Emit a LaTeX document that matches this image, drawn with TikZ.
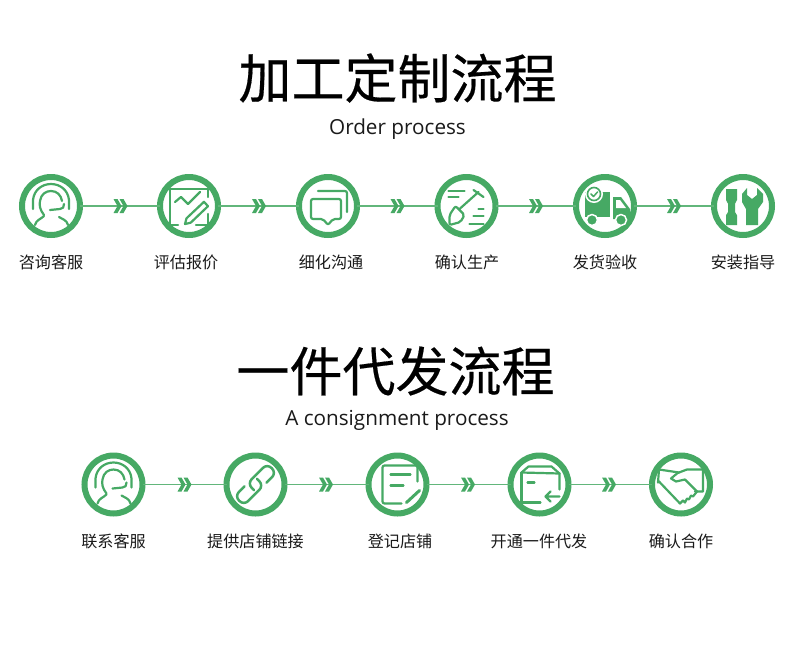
\documentclass[tikz,border=0pt]{standalone}
\usepackage{fontspec}
\newfontfamily\cjk{Noto Sans CJK SC}
\newfontfamily\cjkmed[FakeBold=0.35]{Noto Sans CJK SC}
\newfontfamily\enfont{Open Sans}
\definecolor{gc}{HTML}{46A964}
\definecolor{ink}{HTML}{1A1A1A}
\tikzset{
  ring/.style={circle,draw=gc,line width=6pt,minimum size=58pt,inner sep=0pt,outer sep=0pt,fill=white},
  link/.style={draw=gc!85,line width=1.3pt},
  ic/.style={draw=gc,line width=2.2pt,line cap=round,line join=round},
  titletext/.style={font=\cjkmed\fontsize{53}{56}\selectfont,text=black,inner sep=0pt},
  subtext/.style={font=\enfont\fontsize{20.7}{24}\selectfont,text=ink,inner sep=0pt,anchor=base},
  labeltext/.style={font=\cjk\fontsize{16.1}{18}\selectfont,text=ink,inner sep=0pt,anchor=base},
  chev/.pic={
    \fill[gc] (-7,-7)--(-3,-7)--(1,0)--(-3,7)--(-7,7)--(-3,0)--cycle;
    \fill[gc] (-1,-7)--(3,-7)--(7,0)--(3,7)--(-1,7)--(3,0)--cycle;
  },
  iconperson/.pic={
    \draw[ic] (-18,3)--(-18,-6) .. controls (-17,-16) and (-9,-22) .. (0,-22) .. controls (9,-22) and (17,-16) .. (18,-6)--(18,3);
    \draw[ic] (-7,9) .. controls (-11,4) and (-12,-1) .. (-11,-5) .. controls (-10,-12) and (-5,-15) .. (0,-15) .. controls (6,-15) and (10,-11) .. (11,-5);
    \draw[ic] (-1,4)--(9,3) .. controls (12,3) and (13,1) .. (13,-2);
    \draw[ic] (-16,19) .. controls (-15,14) and (-10,13) .. (-7,10);
    \draw[ic] (17,19) .. controls (16,14) and (11,13) .. (8,11);
  },
  iconchart/.pic={
    \draw[ic] (-19,19)--(-19,-17)--(19,-17)--(19,-9);
    \draw[ic] (19,8)--(19,19)--(7,19);
    \draw[ic] (-19,19)--(-11,19);
    \draw[ic] (-14,-4)--(-8,-9)--(-1,-2)--(11,-14);
    \draw[ic] (-4,18)--(1.7,16.7)--(19,0.2)--(15,-4.2)--(-2.5,12.3)--cycle;
  },
  iconchat/.pic={
    \draw[ic,rounded corners=2pt] (-10,-15)--(19,-15)--(19,6);
    \draw[ic,rounded corners=2pt] (-17,13)--(-17,-7)--(13,-7)--(13,13)--(5,13)--(0,19)--(-5,13)--cycle;
  },
  iconshovel/.pic={
    \draw[ic] (-18,-15)--(-2,-15) (-18,-9)--(-8,-9);
    \draw[ic] (-7,3)--(12,-14) (7,-16)--(17,-9);
    \draw[ic,rounded corners=2pt] (-11,0)--(-2,9)--(-6,16)--(-17,19)--(-17,9)--cycle;
    \draw[ic] (12,3)--(17,3) (7,10)--(17,10) (3,18)--(17,18);
  },
  icontruck/.pic={
    \fill[gc] (-20,-14)--(5,-14)--(5,11)--(-20,11)--cycle;
    \fill[gc] (8,-9)--(16,-9)--(25,3)--(25,13)--(8,13)--cycle;
    \fill[white] (11,-6)--(15,-6)--(21,2)--(11,2)--cycle;
    \fill[white] (-11,-12) circle (9);
    \draw[gc,line width=1.6pt] (-11,-12) circle (6.5);
    \draw[gc,line width=1.5pt,line cap=round,line join=round] (-14,-12)--(-11.5,-9.5)--(-7.5,-14);
    \fill[gc,draw=white,line width=1.5pt] (-13,14) circle (5.5);
    \fill[gc,draw=white,line width=1.5pt] (16,14) circle (5.5);
  },
  icontools/.pic={
    \fill[gc] (-17,-17)--(-6,-17)--(-6,-6)--(-8,-2.3)--(-8,6)--(-6,9.3)--(-6,19)--(-17,19)--(-17,9.3)--(-15,6)--(-15,-2.3)--(-17,-6)--cycle;
    \fill[gc] (-1,-12)--(4,-18)--(4,-11)--(9,-7)--(14,-11)--(14,-18)--(20,-12)--(20,-4)--(15,3)--(15,19)--(3,19)--(3,3)--(-1,-4)--cycle;
  },
  iconlink/.pic={
    \begin{scope}[rotate=45]
      \draw[ic,line width=2.5pt,rounded corners=6pt] (9,6.5)--(23,6.5)--(23,-6.5)--(-5,-6.5)--(-5,3);
      \draw[ic,line width=2.5pt,rounded corners=6pt] (-9,-6.5)--(-23,-6.5)--(-23,6.5)--(5,6.5)--(5,-3);
    \end{scope}
  },
  iconform/.pic={
    \draw[ic,rounded corners=2pt] (20,-3)--(20,-19)--(-15,-19)--(-15,19)--(4,19);
    \draw[ic] (-7,-10)--(13,-10) (-7,1)--(6,1);
    \draw[ic,line width=3pt] (9,18)--(22,6);
  },
  iconbox/.pic={
    \draw[ic] (-18,-12)--(-11,-18)--(12,-18)--(20,-11)--(20,5);
    \draw[ic] (-18,-12)--(20,-11);
    \draw[ic] (-18,-12)--(-18,18)--(1,18);
    \draw[ic] (-12,-2)--(-5,-2);
    \draw[ic] (20,12)--(6,12) (11,7)--(6,12)--(11,17);
  },
  iconhands/.pic={
    \draw[ic] (-22,-15)--(-2,-12)--(6,-15)--(22,-15)--(22,7)--(14,7);
    \draw[ic] (-22,-15)--(-23,-2)--(-22,-3)--(-1,19)--(2,16)--(4,18)--(6,14)--(8,15)--(10,11)--(12,12)--(16,7)--(4,-5)--(-5,-3)--(-10,-6)--(-4,-11)--(-2,-12);
  }
}
\begin{document}
\begin{tikzpicture}[x=1pt,y=-1pt]
\useasboundingbox[fill=white] (0,0) rectangle (790,662);
% titles
\node[titletext] (t1) at (397.5,78) {加工定制流程};
\node[subtext] (s1) at (397.5,134) {Order process};
\node[titletext] (t2) at (395.5,371) {一件代发流程};
\node[subtext] (s2) at (397,425) {A consignment process};
% row 1 rings
\node[ring] (a1) at (51,206) {};
\node[ring] (a2) at (189,206) {};
\node[ring] (a3) at (328,206) {};
\node[ring] (a4) at (466.5,206) {};
\node[ring] (a5) at (605,206) {};
\node[ring] (a6) at (743,206) {};
% row 2 rings
\node[ring] (b1) at (113.5,484.5) {};
\node[ring] (b2) at (255.5,484.5) {};
\node[ring] (b3) at (397.5,484.5) {};
\node[ring] (b4) at (539.5,484.5) {};
\node[ring] (b5) at (681,484.5) {};
% connectors
\draw[link] (a1)--(a2);
\draw[link] (a2)--(a3);
\draw[link] (a3)--(a4);
\draw[link] (a4)--(a5);
\draw[link] (a5)--(a6);
\draw[link] (b1)--(b2);
\draw[link] (b2)--(b3);
\draw[link] (b3)--(b4);
\draw[link] (b4)--(b5);
% chevrons
\pic at (120.5,206) {chev};
\pic at (259,206) {chev};
\pic at (397.5,206) {chev};
\pic at (536,206) {chev};
\pic at (674,206) {chev};
\pic at (184.5,484.5) {chev};
\pic at (326,484.5) {chev};
\pic at (468,484.5) {chev};
\pic at (609,484.5) {chev};
% icons
\pic at (a1) {iconperson};
\pic at (a2) {iconchart};
\pic at (a3) {iconchat};
\pic at (a4) {iconshovel};
\pic at (a5) {icontruck};
\pic at (a6) {icontools};
\pic at (b1) {iconperson};
\pic at (b2) {iconlink};
\pic at (b3) {iconform};
\pic at (b4) {iconbox};
\pic at (b5) {iconhands};
% labels
\node[labeltext] (la1) at (51,268) {咨询客服};
\node[labeltext] (la2) at (186,268) {评估报价};
\node[labeltext] (la3) at (331,268) {细化沟通};
\node[labeltext] (la4) at (467,268) {确认生产};
\node[labeltext] (la5) at (605,268) {发货验收};
\node[labeltext] (la6) at (743,268) {安装指导};
\node[labeltext] (lb1) at (113.5,547) {联系客服};
\node[labeltext] (lb2) at (255.5,547) {提供店铺链接};
\node[labeltext] (lb3) at (400,547) {登记店铺};
\node[labeltext] (lb4) at (539,547) {开通一件代发};
\node[labeltext] (lb5) at (681,547) {确认合作};
\end{tikzpicture}
\end{document}
